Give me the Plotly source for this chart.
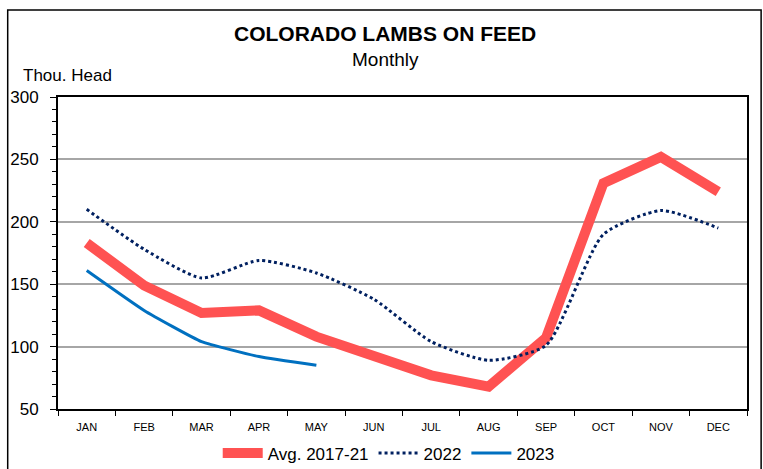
import plotly.graph_objects as go

months = ["JAN", "FEB", "MAR", "APR", "MAY", "JUN", "JUL", "AUG", "SEP", "OCT", "NOV", "DEC"]
avg_2017_21 = [183, 149, 127, 129, 108, 92, 77, 68, 107, 231, 252, 224]
y2022 = [210, 178, 155, 169, 159, 138, 104, 89, 101, 190, 209, 195]
y2023 = [161, 129, 104, 92, 85]

fig = go.Figure()
fig.add_trace(go.Scatter(x=months, y=avg_2017_21, mode="lines", name="Avg. 2017-21",
                         line=dict(color="#FF5252", width=10)))
fig.add_trace(go.Scatter(x=months, y=y2022, mode="lines", name="2022",
                         line=dict(color="#002060", width=3, dash="dot", shape="spline", smoothing=0.6)))
fig.add_trace(go.Scatter(x=months[:len(y2023)], y=y2023, mode="lines", name="2023",
                         line=dict(color="#0070C0", width=3, shape="spline", smoothing=0.4)))

font_main = "Liberation Sans, Arial"

fig.update_layout(
    width=763, height=469,
    margin=dict(l=58, r=16, t=97, b=60, autoexpand=False),
    paper_bgcolor="white", plot_bgcolor="white",
    showlegend=True,
    legend=dict(orientation="h", x=0.48, xanchor="center", y=-0.085, yanchor="top",
                font=dict(family=font_main, size=17, color="black"),
                itemwidth=40, tracegroupgap=0),
    font=dict(family=font_main, color="black"),
    xaxis=dict(type="category", showgrid=False, showline=True, linecolor="black", linewidth=2,
               mirror=True, ticks="outside", tickson="boundaries", ticklen=5, tickcolor="black",
               ticklabelstandoff=7,
               tickfont=dict(size=11, family=font_main), range=[-0.5, 11.5]),
    yaxis=dict(range=[50, 300], dtick=50, showgrid=True, gridcolor="#A6A6A6", gridwidth=1.5,
               showline=True, linecolor="black", linewidth=2, mirror=True,
               ticks="outside", ticklen=6, tickcolor="black", ticklabelstandoff=8,
               minor=dict(dtick=10, ticks="outside", ticklen=4, tickcolor="black", showgrid=False),
               tickfont=dict(size=17, family=font_main), zeroline=False),
    annotations=[
        dict(text="<b>COLORADO LAMBS ON FEED</b>", xref="paper", yref="paper", x=0.475, y=1.203,
             xanchor="center", yanchor="middle", showarrow=False,
             font=dict(family=font_main, size=21, color="black")),
        dict(text="Monthly", xref="paper", yref="paper", x=0.475, y=1.12,
             xanchor="center", yanchor="middle", showarrow=False,
             font=dict(family=font_main, size=19, color="black")),
        dict(text="Thou. Head", xref="paper", yref="paper", x=-0.054, y=1.07,
             xanchor="left", yanchor="middle", showarrow=False,
             font=dict(family=font_main, size=17, color="black")),
    ],
    shapes=[
        dict(type="rect", xref="paper", yref="paper", x0=-0.073, x1=1.0205, y0=-0.4, y1=1.279,
             line=dict(color="black", width=1.5), layer="below"),
    ],
)

fig.write_html("out.html")
